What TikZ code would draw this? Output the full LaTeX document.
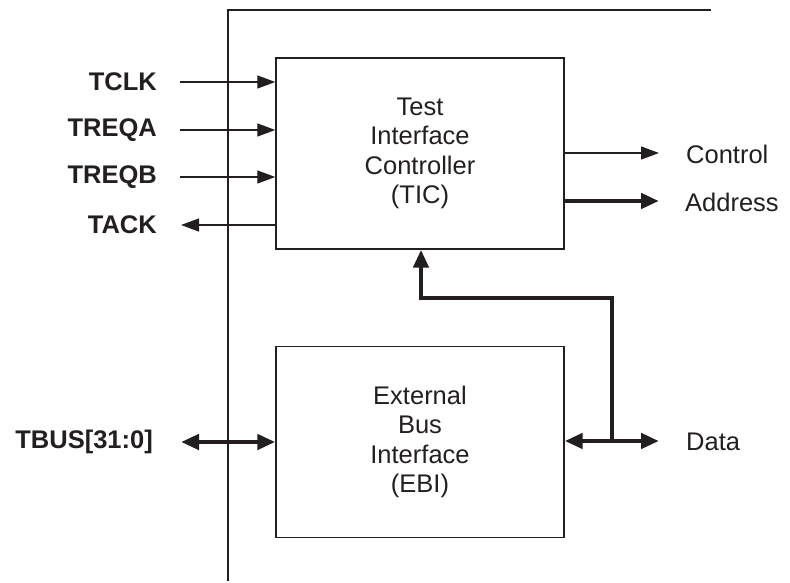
\documentclass[tikz,border=0pt]{standalone}
\usepackage{fontspec}
\setmainfont{Liberation Sans}
\usetikzlibrary{arrows.meta}
\definecolor{ink}{HTML}{231F20}
\begin{document}
\begin{tikzpicture}[x=1pt,y=-1pt,
  every node/.style={text=ink, font=\fontsize{25.5}{29.5}\selectfont, inner sep=0pt},
  blockbox/.style={draw=ink, line width=1.4pt, minimum width=288pt, minimum height=191pt, align=center},
  sig/.style={font=\fontsize{25.5}{29.5}\selectfont\bfseries, anchor=east},
  outlbl/.style={anchor=west},
  thin/.style={draw=ink, line width=1.3pt, -{Triangle[length=18pt,width=13pt]}},
  bus/.style={draw=ink, line width=4.5pt, line join=miter, -{Triangle[length=18pt,width=15pt]}},
  busboth/.style={draw=ink, line width=4.5pt, {Triangle[length=18pt,width=15pt]}-{Triangle[length=18pt,width=15pt]}}
]
\useasboundingbox (0,0) rectangle (790,583);
% frame
\draw[ink, line width=1.5pt] (228,581) -- (228,10) -- (711,10);
% blocks
\node[blockbox] (tic) at (420,153.5) {Test\\Interface\\Controller\\(TIC)};
\node[blockbox] (ebi) at (420,442) {External\\Bus\\Interface\\(EBI)};
% left labels
\node[sig] (tclk) at (157,82) {TCLK};
\node[sig] (treqa) at (157,130) {TREQA};
\node[sig] (treqb) at (157,177) {TREQB};
\node[sig] (tack) at (157,225) {TACK};
\node[sig] (tbus) at (153,442) {TBUS[31:0]};
% left arrow ends
\coordinate (a1) at (180,82);
\coordinate (a2) at (180,130);
\coordinate (a3) at (180,177);
\coordinate (a4) at (181,225);
\coordinate (a5) at (181,442);
\draw[thin] (a1) -- (a1 -| tic.west);
\draw[thin] (a2) -- (a2 -| tic.west);
\draw[thin] (a3) -- (a3 -| tic.west);
\draw[thin] (a4 -| tic.west) -- (a4);
\draw[busboth] (a5) -- (a5 -| ebi.west);
% right labels
\node[outlbl] (ctrl) at (686,154) {Control};
\node[outlbl] (addr) at (685,202) {Address};
\node[outlbl] (data) at (686,442) {Data};
\coordinate (r1) at (659,153);
\coordinate (r2) at (659,201);
\coordinate (r3) at (659,441);
\draw[thin] (r1 -| tic.east) -- (r1);
\draw[bus] (r2 -| tic.east) -- (r2);
% data bus
\coordinate (j) at (612,441);
\coordinate (k) at (612,298);
\coordinate (m) at (421,298);
\draw[bus] (j) -- (j -| ebi.east);
\draw[bus] (j) -- (r3);
\draw[bus] (j) -- (k) -- (m) -- (m |- tic.south);
\end{tikzpicture}
\end{document}
